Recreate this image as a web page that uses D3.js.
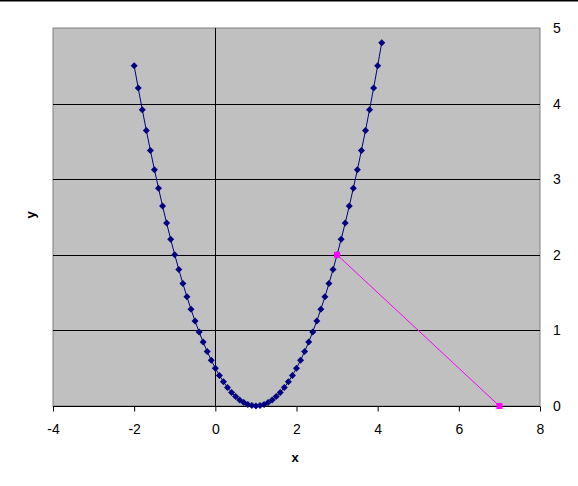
<!DOCTYPE html>
<html>
<head>
<meta charset="utf-8">
<script src="https://cdn.jsdelivr.net/npm/d3@7"></script>
<style>
  body { margin: 0; background: #fff; }
  svg { display: block; font-family: "Liberation Sans", Arial, sans-serif; }
</style>
</head>
<body>
<script>
const width = 578; //Size of the page.
const height = 486;

//Curve points.
const curveX = [-2.0, -1.9, -1.8, -1.7, -1.6, -1.5, -1.4, -1.3, -1.2, -1.1,
  -1.0, -0.9, -0.8, -0.7, -0.6, -0.5, -0.4, -0.3, -0.2, -0.1,
  0.0, 0.1, 0.2, 0.3, 0.4, 0.5, 0.6, 0.7, 0.8, 0.9,
  1.0, 1.1, 1.2, 1.3, 1.4, 1.5, 1.6, 1.7, 1.8, 1.9,
  2.0, 2.1, 2.2, 2.3, 2.4, 2.5, 2.6, 2.7, 2.8, 2.9,
  3.0, 3.1, 3.2, 3.3, 3.4, 3.5, 3.6, 3.7, 3.8, 3.9, 4.0, 4.1];
const curveY = [4.5, 4.205, 3.92, 3.645, 3.38, 3.125, 2.88, 2.645, 2.42, 2.205,
  2.0, 1.805, 1.62, 1.445, 1.28, 1.125, 0.98, 0.845, 0.72, 0.605,
  0.5, 0.405, 0.32, 0.245, 0.18, 0.125, 0.08, 0.045, 0.02, 0.005,
  0.0, 0.005, 0.02, 0.045, 0.08, 0.125, 0.18, 0.245, 0.32, 0.405,
  0.5, 0.605, 0.72, 0.845, 0.98, 1.125, 1.28, 1.445, 1.62, 1.805,
  2.0, 2.205, 2.42, 2.645, 2.88, 3.125, 3.38, 3.645, 3.92, 4.205, 4.5, 4.805];

//The magenta segment.
const segX = [3, 7];
const segY = [2, 0];

const xTicks = [-4, -2, 0, 2, 4, 6, 8];
const yTicks = [0, 1, 2, 3, 4, 5];

const plot = { left: 53, right: 540, top: 28, bottom: 406 };

const xScale = d3.scaleLinear().domain([-4, 8]).range([plot.left, plot.right]);
const yScale = d3.scaleLinear().domain([0, 5]).range([plot.bottom, plot.top]);

const svg = d3.select("body").append("svg")
  .attr("width", width)
  .attr("height", height);

svg.append("line") //Black line along the top edge.
  .attr("x1", 0).attr("x2", width)
  .attr("y1", 0.5).attr("y2", 0.5)
  .attr("stroke", "#000").attr("stroke-width", 2);

svg.append("rect") //Gray plot area.
  .attr("x", plot.left).attr("y", plot.top)
  .attr("width", plot.right - plot.left)
  .attr("height", plot.bottom - plot.top)
  .attr("fill", "#c0c0c0")
  .attr("stroke", "#808080")
  .attr("stroke-width", 1);

//Horizontal gridlines.
svg.append("g")
  .selectAll("line")
  .data(yTicks.filter(d => d > 0 && d < 5))
  .enter().append("line")
  .attr("x1", plot.left).attr("x2", plot.right)
  .attr("y1", d => Math.round(yScale(d)) + 0.5)
  .attr("y2", d => Math.round(yScale(d)) + 0.5)
  .attr("stroke", "#000");

//Vertical axis line at x = 0.
svg.append("line")
  .attr("x1", Math.round(xScale(0)) + 0.5).attr("x2", Math.round(xScale(0)) + 0.5)
  .attr("y1", plot.top).attr("y2", plot.bottom)
  .attr("stroke", "#000");

//X axis at the bottom.
const xAxis = d3.axisBottom(xScale)
  .tickValues(xTicks)
  .tickSize(5)
  .tickFormat(d3.format("d"));

const xg = svg.append("g")
  .attr("transform", "translate(0," + (plot.bottom + 0.5) + ")")
  .call(xAxis);
xg.select(".domain").attr("d", "M" + plot.left + ",0H" + plot.right);
xg.selectAll("text")
  .attr("y", 18)
  .attr("font-size", 14)
  .attr("font-family", "Liberation Sans, Arial, sans-serif")
  .text(d => d < 0 ? "-" + Math.abs(d) : d);

//Y axis labels on the right.
const yAxis = d3.axisRight(yScale)
  .tickValues(yTicks)
  .tickSize(0)
  .tickPadding(13)
  .tickFormat(d3.format("d"));

const yg = svg.append("g")
  .attr("transform", "translate(" + plot.right + ",0)")
  .call(yAxis);
yg.select(".domain").remove();
yg.selectAll("text")
  .attr("font-size", 14)
  .attr("font-family", "Liberation Sans, Arial, sans-serif");

svg.append("text") //X label.
  .attr("x", 295).attr("y", 462)
  .attr("text-anchor", "middle")
  .attr("font-size", 13)
  .attr("font-weight", "bold")
  .text("x");

svg.append("text") //Y label.
  .attr("transform", "translate(35,215) rotate(-90)")
  .attr("text-anchor", "middle")
  .attr("font-size", 13)
  .attr("font-weight", "bold")
  .text("y");

const curve = curveX.map((x, i) => [x, curveY[i]]);
const seg = segX.map((x, i) => [x, segY[i]]);

const line = d3.line()
  .x(d => xScale(d[0]))
  .y(d => yScale(d[1]));

svg.append("path")
  .datum(curve)
  .attr("d", line)
  .attr("fill", "none")
  .attr("stroke", "#000080")
  .attr("stroke-width", 1);

svg.append("g")
  .selectAll("path")
  .data(curve)
  .enter().append("path")
  .attr("transform", d => "translate(" + xScale(d[0]) + "," + yScale(d[1]) + ")")
  .attr("d", "M0,-3.5L3.5,0L0,3.5L-3.5,0Z")
  .attr("fill", "#000080");

svg.append("path")
  .datum(seg)
  .attr("d", line)
  .attr("fill", "none")
  .attr("stroke", "#ff00ff")
  .attr("stroke-width", 1);

svg.append("g")
  .selectAll("rect")
  .data(seg)
  .enter().append("rect")
  .attr("x", d => xScale(d[0]) - 3)
  .attr("y", d => yScale(d[1]) - 3)
  .attr("width", 6)
  .attr("height", 6)
  .attr("fill", "#ff00ff");
</script>
</body>
</html>
